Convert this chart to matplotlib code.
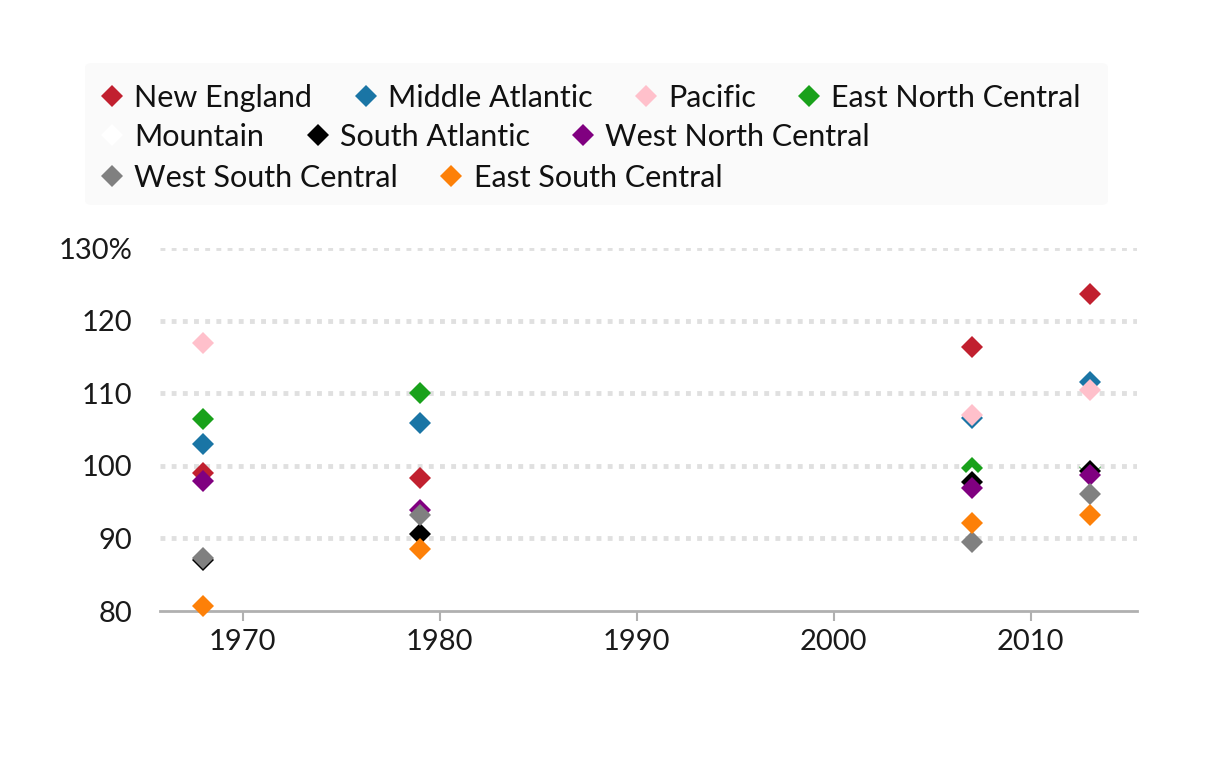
import numpy as np
import matplotlib
matplotlib.use("Agg")
import matplotlib.pyplot as plt
from matplotlib.lines import Line2D
from matplotlib.patches import FancyBboxPatch

plt.rcParams['font.family'] = ['Lato', 'DejaVu Sans']

years = [1968, 1979, 2007, 2013]
regions = ["New England", "Middle Atlantic", "Pacific", "East North Central",
           "Mountain", "South Atlantic", "West North Central",
           "West South Central", "East South Central"]
colors = ["#c1202f", "#1a75a5", "#ffc0cb", "#19a11b", "#ffffff",
          "#000000", "#800080", "#808080", "#fd8008"]

# percent values per region, for the years above
new_england = [99.0, 98.4, 116.4, 123.7]
middle_atlantic = [103.0, 105.9, 106.6, 111.5]
pacific = [116.9, np.nan, 107.0, 110.4]
east_north_central = [106.4, 110.1, 99.7, 99.8]
mountain = [np.nan, np.nan, 98.4, 100.0]
south_atlantic = [87.0, 90.6, 97.8, 99.3]
west_north_central = [97.9, 93.9, 96.9, 98.7]
west_south_central = [87.3, 93.2, 89.5, 96.1]
east_south_central = [80.7, 88.5, 92.1, 93.2]

series = [new_england, middle_atlantic, pacific, east_north_central, mountain,
          south_atlantic, west_north_central, west_south_central, east_south_central]

fig = plt.figure(figsize=(12.16, 7.61), dpi=100)
ax = fig.add_axes([0.1316, 0.197, 0.8034, 0.477])

for i, (vals, c) in enumerate(zip(series, colors)):
    ax.plot(years, vals, linestyle='none', marker='D', markersize=11,
            color=c, markeredgewidth=0, zorder=3 + i, clip_on=False)

ax.set_xlim(1965.8, 2015.4)
ax.set_ylim(80, 130)
ax.set_yticks([80, 90, 100, 110, 120, 130])
ax.set_yticklabels(["80", "90", "100", "110", "120", "130%"])
ax.set_xticks([1970, 1980, 1990, 2000, 2010])

for y in [90, 100, 110, 120, 130]:
    ax.axhline(y, color='#e0e0e0', linewidth=3.5, linestyle=(0, (1, 1.3)), zorder=1)

for s in ['top', 'right', 'left']:
    ax.spines[s].set_visible(False)
ax.spines['bottom'].set_color('#b0b0b0')
ax.spines['bottom'].set_linewidth(2)
ax.tick_params(axis='y', length=0, pad=20, labelsize=21, labelcolor='#1a1a1a')
ax.tick_params(axis='x', length=7, width=1.5, color='#b0b0b0', pad=6,
               labelsize=21, labelcolor='#1a1a1a')

# legend background
fig.patches.append(FancyBboxPatch((85 / 1216, 1 - 205 / 761), 1023 / 1216, 142 / 761,
                                  boxstyle='round,pad=0,rounding_size=0.006',
                                  transform=fig.transFigure, facecolor='#fafafa',
                                  edgecolor='none', zorder=0))

handles = [Line2D([], [], linestyle='none', marker='D', markersize=11,
                  color=c, markeredgewidth=0) for c in colors]
rows = [[0, 1, 2, 3], [4, 5, 6], [7, 8]]
centers = [0.871, 0.820, 0.766]
for row, yc in zip(rows, centers):
    leg = fig.legend([handles[k] for k in row], [regions[k] for k in row],
                     loc='center left', bbox_to_anchor=(0.0822, yc), ncol=len(row),
                     frameon=False, fontsize=22, handlelength=0.8,
                     handletextpad=0.33, columnspacing=1.34, borderpad=0,
                     borderaxespad=0)
    for t in leg.get_texts():
        t.set_color('#111111')

fig.savefig('out.png', dpi=100, facecolor='white')
